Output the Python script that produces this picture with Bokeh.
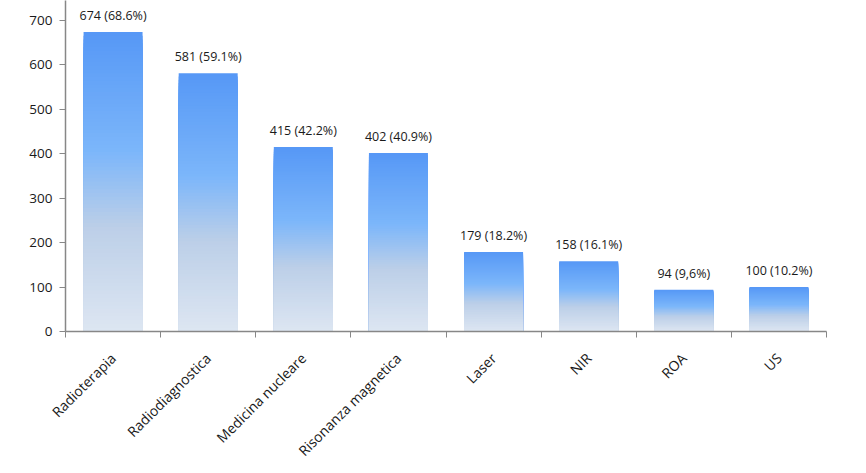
import numpy as np
from bokeh.plotting import figure
from bokeh.models import FixedTicker, Range1d, ColumnDataSource
from bokeh.core.properties import value
from bokeh.embed import file_html
from bokeh.resources import INLINE

categories = ["Radioterapia", "Radiodiagnostica", "Medicina nucleare", "Risonanza magnetica",
              "Laser", "NIR", "ROA", "US"]
counts = [674, 581, 415, 402, 179, 158, 94, 100]
labels = ["674 (68.6%)", "581 (59.1%)", "415 (42.2%)", "402 (40.9%)",
          "179 (18.2%)", "158 (16.1%)", "94 (9,6%)", "100 (10.2%)"]
y_ticks = [0, 100, 200, 300, 400, 500, 600, 700]

FONT = "Open Sans"
W, H = 866, 473

p = figure(width=W, height=H, output_backend="svg", toolbar_location=None,
           x_range=Range1d(0, len(categories)), y_range=Range1d(0, 745),
           min_border_left=65, min_border_right=40, min_border_top=0, min_border_bottom=142)
p.outline_line_color = None
p.grid.visible = False
p.background_fill_color = "white"
p.border_fill_color = "white"

# gradient bars: overlapping layers per bar, each from 0 up to a decreasing top
stops = [(0.0, (86, 152, 246)), (0.4, (124, 182, 250)), (0.65, (188, 207, 232)), (1.0, (221, 230, 242))]
def col(t):
    for (t0, c0), (t1, c1) in zip(stops[:-1], stops[1:]):
        if t <= t1:
            f = (t - t0) / (t1 - t0)
            c = [int(round(a + (b - a) * f)) for a, b in zip(c0, c1)]
            return "#%02x%02x%02x" % tuple(c)
    return "#%02x%02x%02x" % stops[-1][1]

N = 80
bw = 0.62
left, right, bottom, top, colors = [], [], [], [], []
for k in range(N):
    t0 = k / N
    for i, v in enumerate(counts):
        left.append(i + 0.5 - bw / 2)
        right.append(i + 0.5 + bw / 2)
        top.append(v * (1 - t0))
        bottom.append(0)
        colors.append(col(t0 + 0.5 / N))
p.quad(left=left, right=right, bottom=bottom, top=top, fill_color=colors, line_color=None)

xs = [i + 0.5 for i in range(len(categories))]
src = ColumnDataSource(dict(x=xs, y=counts, t=labels))
p.text(x="x", y="y", text="t", source=src, text_align="center", text_baseline="bottom",
       y_offset=-8, text_font=value(FONT), text_font_size="12.5px", text_color="#1a1a1a")

axis_color = "#878787"
# x axis
p.xaxis.ticker = FixedTicker(ticks=xs, minor_ticks=list(range(len(categories) + 1)))
p.xaxis.major_label_overrides = {x: c for x, c in zip(xs, categories)}
p.xaxis.major_label_orientation = np.pi / 4
p.xaxis.major_tick_out = 0
p.xaxis.major_tick_in = 0
p.xaxis.minor_tick_out = 6
p.xaxis.minor_tick_in = 0
p.xaxis.minor_tick_line_color = axis_color
p.xaxis.axis_line_color = axis_color
p.xaxis.axis_line_width = 1.5
p.xaxis.major_label_text_font = FONT
p.xaxis.major_label_text_font_size = "14px"
p.xaxis.major_label_text_color = "#1a1a1a"
p.xaxis.major_label_standoff = 18

# y axis
p.yaxis.ticker = FixedTicker(ticks=y_ticks)
p.yaxis.minor_tick_line_color = None
p.yaxis.major_tick_out = 6
p.yaxis.major_tick_in = 0
p.yaxis.major_tick_line_color = axis_color
p.yaxis.axis_line_color = axis_color
p.yaxis.axis_line_width = 1.5
p.yaxis.major_label_text_font = FONT
p.yaxis.major_label_text_font_size = "13.5px"
p.yaxis.major_label_text_color = "#1a1a1a"
p.yaxis.major_label_standoff = 7

open("out.html", "w").write(file_html(p, INLINE))
